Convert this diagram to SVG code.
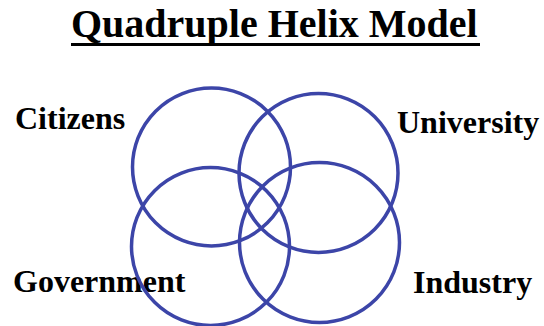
<svg xmlns="http://www.w3.org/2000/svg" width="544" height="326" viewBox="0 0 544 326">
<style>
.lbl{font-family:"Liberation Serif","Times New Roman",serif;font-weight:bold;font-size:32px;fill:#000}
.ttl{font-family:"Liberation Serif","Times New Roman",serif;font-weight:bold;font-size:40px;fill:#000}
.ring{fill:none;stroke:#3c45a8;stroke-width:3.5}
</style>
<rect width="544" height="326" fill="#fff"/>
<g id="title">
<text class="ttl" x="71" y="37">Quadruple Helix Model</text>
<line x1="71" y1="44.5" x2="480" y2="44.5" stroke="#000" stroke-width="3"/>
</g>
<g id="connectors"/>
<g id="citizens">
<text class="lbl" x="15" y="129">Citizens</text>
<circle class="ring" cx="211.5" cy="167" r="79"/>
</g>
<g id="university">
<text class="lbl" x="397" y="133">University</text>
<circle class="ring" cx="318.5" cy="173" r="79.5"/>
</g>
<g id="government">
<text class="lbl" x="13" y="292">Government</text>
<circle class="ring" cx="210.5" cy="246.5" r="79"/>
</g>
<g id="industry">
<text class="lbl" x="413" y="293">Industry</text>
<circle class="ring" cx="319.5" cy="242.5" r="80"/>
</g>
</svg>
